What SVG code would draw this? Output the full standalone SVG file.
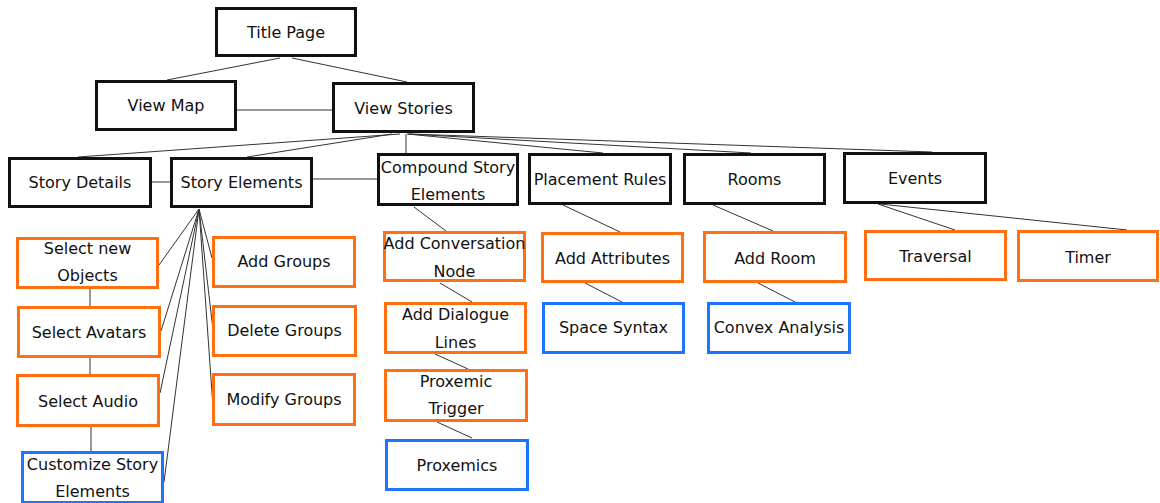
<svg xmlns="http://www.w3.org/2000/svg" width="1160" height="503" viewBox="0 0 1160 503">
  <style>
    .box { fill: #ffffff; stroke-width: 3; }
    .main { stroke: #111111; }
    .task { stroke: #ff6f0f; }
    .tool { stroke: #1c74ff; }
    text { font-family: "DejaVu Sans", Verdana, sans-serif; font-size: 16px; fill: #111111; text-anchor: middle; }
    #connectors line { stroke: #333333; stroke-width: 1; }
  </style>
  <rect width="1160" height="503" fill="#ffffff"/>

  <!-- connectors -->
  <g id="connectors">
    <line x1="280" y1="58" x2="167" y2="80"/>
    <line x1="292" y1="58" x2="407" y2="82"/>
    <line x1="237" y1="110" x2="332" y2="110"/>
    <line x1="400" y1="134" x2="78" y2="157"/>
    <line x1="392" y1="134" x2="247" y2="157"/>
    <line x1="406" y1="134" x2="406" y2="153"/>
    <line x1="407" y1="134" x2="603" y2="153"/>
    <line x1="408" y1="134" x2="751" y2="153"/>
    <line x1="409" y1="134" x2="932" y2="152"/>
    <line x1="152" y1="182" x2="170" y2="182"/>
    <line x1="313" y1="179" x2="377" y2="179"/>
    <!-- Story Elements fan -->
    <line x1="199" y1="209" x2="159" y2="265"/>
    <line x1="199" y1="209" x2="161" y2="331"/>
    <line x1="199" y1="209" x2="160" y2="393"/>
    <line x1="199" y1="209" x2="164" y2="482"/>
    <line x1="199" y1="209" x2="212" y2="258"/>
    <line x1="199" y1="209" x2="213" y2="330"/>
    <line x1="199" y1="209" x2="213" y2="407"/>
    <line x1="90" y1="289" x2="90" y2="306"/>
    <line x1="90" y1="358" x2="90" y2="374"/>
    <line x1="91" y1="427" x2="91" y2="451"/>
    <!-- compound chain -->
    <line x1="414" y1="207" x2="446" y2="231"/>
    <line x1="440" y1="283" x2="472" y2="302"/>
    <line x1="435" y1="354" x2="468" y2="369"/>
    <line x1="437" y1="422" x2="472" y2="438"/>
    <!-- placement / rooms / events -->
    <line x1="563" y1="205" x2="620" y2="232"/>
    <line x1="585" y1="283" x2="622" y2="302"/>
    <line x1="713" y1="205" x2="773" y2="231"/>
    <line x1="758" y1="283" x2="795" y2="302"/>
    <line x1="878" y1="204" x2="955" y2="230"/>
    <line x1="880" y1="204" x2="1127" y2="230"/>
  </g>

  <g id="title-page"><rect class="box main" x="216.5" y="8.5" width="139" height="47"/><text x="286" y="38">Title Page</text></g>
  <g id="view-map"><rect class="box main" x="96.5" y="81.5" width="139" height="48"/><text x="166" y="111">View Map</text></g>
  <g id="view-stories"><rect class="box main" x="333.5" y="83.5" width="140" height="48"/><text x="403.5" y="114">View Stories</text></g>

  <g id="story-details"><rect class="box main" x="9.5" y="158.5" width="141" height="48"/><text x="80" y="188">Story Details</text></g>
  <g id="story-elements"><rect class="box main" x="171.5" y="158.5" width="140" height="48"/><text x="241.5" y="188">Story Elements</text></g>
  <g id="compound-story-elements"><rect class="box main" x="378.5" y="154.5" width="139" height="50"/><text x="448" y="173">Compound Story</text><text x="448" y="200">Elements</text></g>
  <g id="placement-rules"><rect class="box main" x="529.5" y="154.5" width="141" height="49"/><text x="600" y="185">Placement Rules</text></g>
  <g id="rooms"><rect class="box main" x="684.5" y="154.5" width="140" height="49"/><text x="754.5" y="185">Rooms</text></g>
  <g id="events"><rect class="box main" x="844.5" y="153.5" width="141" height="49"/><text x="915" y="184">Events</text></g>

  <g id="select-new-objects"><rect class="box task" x="17.5" y="238.5" width="140" height="49"/><text x="87.5" y="254">Select new</text><text x="87.5" y="281">Objects</text></g>
  <g id="select-avatars"><rect class="box task" x="18.5" y="307.5" width="141" height="49"/><text x="89" y="338">Select Avatars</text></g>
  <g id="select-audio"><rect class="box task" x="17.5" y="375.5" width="141" height="50"/><text x="88" y="407">Select Audio</text></g>
  <g id="customize-story-elements"><rect class="box tool" x="22.5" y="452.5" width="140" height="50"/><text x="92.5" y="470">Customize Story</text><text x="92.5" y="497">Elements</text></g>

  <g id="add-groups"><rect class="box task" x="213.5" y="237.5" width="141" height="49"/><text x="284" y="267">Add Groups</text></g>
  <g id="delete-groups"><rect class="box task" x="213.5" y="306.5" width="142" height="49"/><text x="284.5" y="336">Delete Groups</text></g>
  <g id="modify-groups"><rect class="box task" x="213.5" y="374.5" width="141" height="50"/><text x="284" y="405">Modify Groups</text></g>

  <g id="add-conversation-node"><rect class="box task" x="384.5" y="232.5" width="140" height="48"/><text x="454.5" y="249">Add Conversation</text><text x="454.5" y="277">Node</text></g>
  <g id="add-dialogue-lines"><rect class="box task" x="385.5" y="303.5" width="140" height="49"/><text x="455.5" y="320">Add Dialogue</text><text x="455.5" y="348">Lines</text></g>
  <g id="proxemic-trigger"><rect class="box task" x="385.5" y="370.5" width="141" height="50"/><text x="456" y="387">Proxemic</text><text x="456" y="414">Trigger</text></g>
  <g id="proxemics"><rect class="box tool" x="386.5" y="440.5" width="141" height="49"/><text x="457" y="471">Proxemics</text></g>

  <g id="add-attributes"><rect class="box task" x="542.5" y="233.5" width="140" height="48"/><text x="612.5" y="264">Add Attributes</text></g>
  <g id="space-syntax"><rect class="box tool" x="543.5" y="303.5" width="140" height="49"/><text x="613.5" y="333">Space Syntax</text></g>

  <g id="add-room"><rect class="box task" x="704.5" y="232.5" width="141" height="49"/><text x="775" y="264">Add Room</text></g>
  <g id="convex-analysis"><rect class="box tool" x="708.5" y="303.5" width="141" height="49"/><text x="779" y="333">Convex Analysis</text></g>

  <g id="traversal"><rect class="box task" x="865.5" y="231.5" width="140" height="48"/><text x="935.5" y="262">Traversal</text></g>
  <g id="timer"><rect class="box task" x="1018.5" y="231.5" width="139" height="49"/><text x="1088" y="263">Timer</text></g>
</svg>
